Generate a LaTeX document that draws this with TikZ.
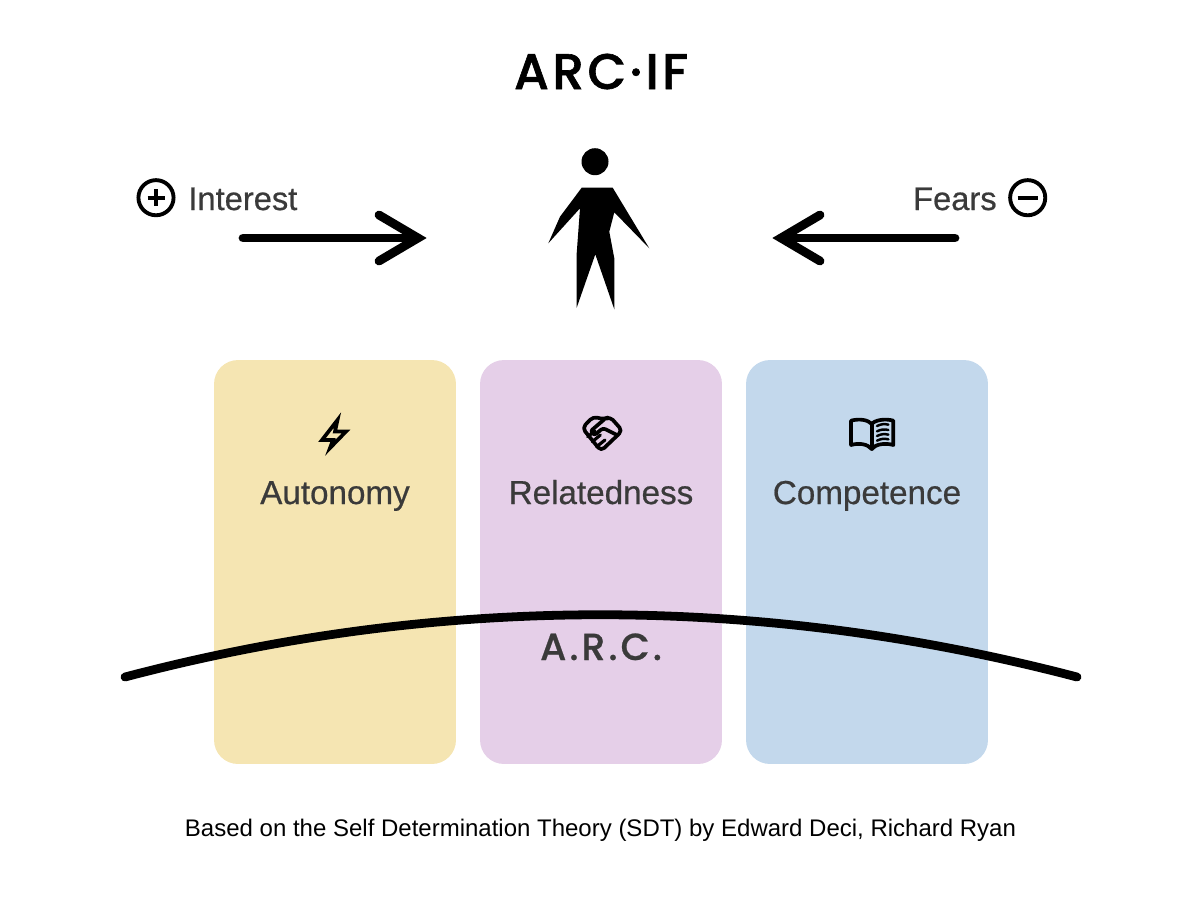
\documentclass[tikz,border=0pt]{standalone}
\usepackage{fontspec}
\setmainfont{Liberation Sans}
\newfontfamily\logofont[LetterSpace=7,FakeBold=1.2]{Poppins Medium}
\newfontfamily\arcfont[LetterSpace=8,FakeBold=0.6]{Poppins Medium}
\newfontfamily\medfont[FakeBold=0.6]{Liberation Sans}
\definecolor{inktxt}{HTML}{3A3A3A}
\definecolor{autcol}{HTML}{F5E5B2}
\definecolor{relcol}{HTML}{E5CFE8}
\definecolor{comcol}{HTML}{C3D8EC}
\tikzset{
  card/.style={draw=none,rounded corners=13.6pt,minimum width=137.7pt,minimum height=229.9pt,inner sep=0pt},
  cardlbl/.style={text=inktxt,font=\medfont\fontsize{18.9}{21}\selectfont,inner sep=0pt},
  sidelbl/.style={text=inktxt,font=\medfont\fontsize{18.6}{21}\selectfont,inner sep=0pt},
  signc/.style={circle,draw=black,line width=2.2pt,minimum size=20pt,inner sep=0pt},
  thick8/.style={line width=5pt,line cap=round},
  barbhead/.style={line width=5pt,line cap=round,line join=miter},
  icon/.style={draw=black,line width=2.1pt,line join=round,line cap=round}
}
\begin{document}
\begin{tikzpicture}[x=0.02cm,y=-0.02cm]
\useasboundingbox (0,0) rectangle (1200,900);
% cards
\node[card,fill=autcol] (aut) at (335,562) {};
\node[card,fill=relcol] (rel) at (601,562) {};
\node[card,fill=comcol] (com) at (867,562) {};
\node[cardlbl,anchor=base] (autlbl) at (335,504) {Autonomy};
\node[cardlbl,anchor=base] (rellbl) at (601,504) {Relatedness};
\node[cardlbl,anchor=base] (comlbl) at (867,504) {Competence};
% titles
\node[anchor=base,inner sep=0pt,font=\logofont\fontsize{28.5}{30}\selectfont] (title) at (601,89) {ARC·IF};
\node[anchor=base,inner sep=0pt,text=inktxt,font=\arcfont\fontsize{21.5}{24}\selectfont] (arc) at (601,660) {A.R.C.};
\node[anchor=base,inner sep=0pt,font=\fontsize{13.66}{15}\selectfont] (source) at (600.5,836) {Based on the Self Determination Theory (SDT) by Edward Deci, Richard Ryan};
% person
\fill (595,161.7) circle (13.5);
\fill (581.7,187.7)--(612.7,187.7)--(649.3,248.3)--(614.3,212.3)--(609.3,231.7)--(614.3,258.3)--(614.3,309.3)--(595.3,254.3)--(576.7,307.7)--(576.7,253.3)--(580,208.3)--(548.3,243.3)--(560,216.7)--cycle;
% interest and fears
\node[signc] (plus) at (156,197.7) {};
\draw[line width=2.2pt] (147.5,197.7)--(164.5,197.7) (156,189.2)--(156,206.2);
\node[sidelbl,anchor=base west] (interest) at (188,210) {Interest};
\node[signc] (minus) at (1027.7,197.7) {};
\draw[line width=2.2pt] (1017.7,197.7)--(1037.7,197.7);
\node[sidelbl,anchor=base east] (fears) at (997,210) {Fears};
\coordinate (instart) at (243,238);
\coordinate (intip) at (418,238);
\coordinate (fstart) at (955,238);
\coordinate (ftip) at (781,238);
\draw[thick8] (instart)--(intip);
\draw[barbhead] (379,215)--(intip)--(379,261);
\draw[thick8] (fstart)--(ftip);
\draw[barbhead] (820,215)--(ftip)--(820,261);
% curve
\coordinate (cleft) at (125,677);
\coordinate (cright) at (1077,677);
\draw[thick8] (cleft) .. controls (440,594) and (760,594) .. (cright);
% bolt
\draw[icon,line join=miter,miter limit=6] (337.5,420)--(322,440)--(333,440)--(330,448)--(346,431.5)--(335,431.5)--cycle;
% handshake
\begin{scope}[shift={(565,400)},x=0.00667cm,y=-0.00667cm]
\draw[icon,rounded corners=2.5pt] (108,153)--(52,84)--(84,50)--(118,58)--(135,50)--(172,92)--cycle;
\draw[icon,rounded corners=1.5pt] (118,58)--(76,94)--(88,106)--(114,84)--(158,106);
\draw[icon,line width=1.8pt] (68,110)--(90,93) (82,125)--(106,105) (95,140)--(120,120);
\end{scope}
% book
\begin{scope}[shift={(835,400)},x=0.00667cm,y=-0.00667cm]
\draw[icon] (48,62) .. controls (75,55) and (100,60) .. (110,72) .. controls (120,60) and (150,55) .. (175,62)--(175,135) .. controls (150,128) and (122,132) .. (110,147) .. controls (98,132) and (72,128) .. (48,135)--cycle;
\draw[icon] (110,72)--(110,147);
\draw[icon,line width=1.4pt] (126,78) .. controls (138,72) and (148,71) .. (160,74) (126,94) .. controls (138,88) and (148,87) .. (160,90) (126,108) .. controls (138,102) and (148,101) .. (160,104) (126,122) .. controls (138,116) and (148,115) .. (160,118);
\end{scope}
\end{tikzpicture}
\end{document}
